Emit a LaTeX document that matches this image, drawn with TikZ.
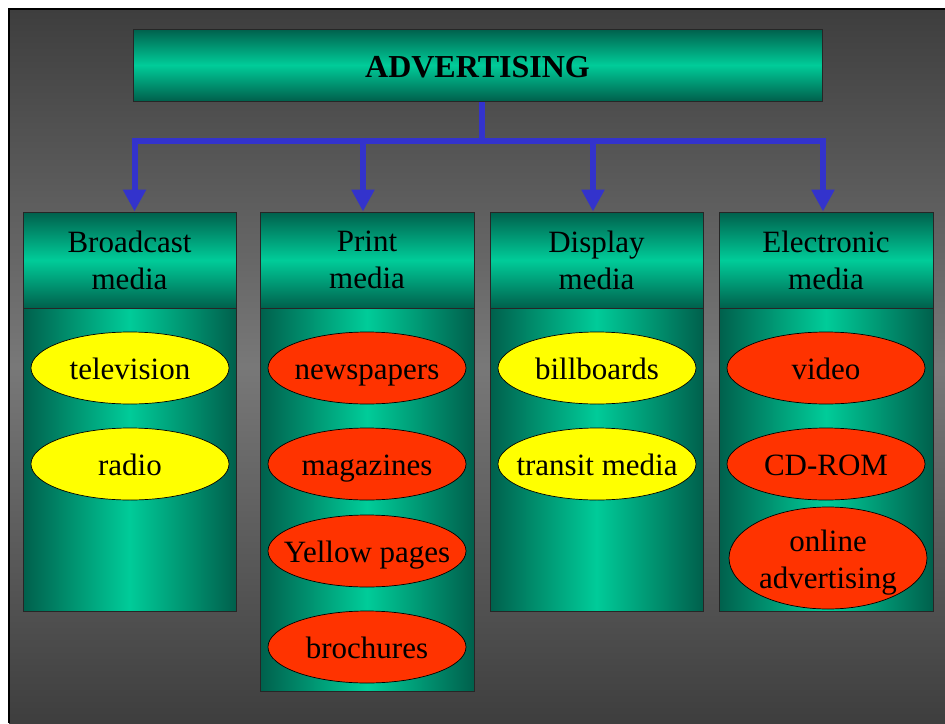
\documentclass[tikz,border=0pt]{standalone}
\usepackage{fontspec}
\setmainfont{Liberation Serif}
\usetikzlibrary{arrows.meta,shapes.geometric}

\definecolor{bgdark}{RGB}{62,62,62}
\definecolor{bglight}{RGB}{120,120,120}
\definecolor{tealdark}{RGB}{0,96,76}
\definecolor{tealbright}{RGB}{0,204,153}
\definecolor{linkblue}{RGB}{51,51,204}
\definecolor{tagyellow}{RGB}{255,255,0}
\definecolor{tagred}{RGB}{255,51,0}

\begin{document}
\begin{tikzpicture}[x=1pt,y=-1pt,
  every node/.style={font=\fontsize{31}{37}\selectfont},
  rootbox/.style={rectangle, draw=black!85, line width=1pt, inner sep=0pt,
    top color=tealdark, bottom color=tealdark, middle color=tealbright,
    minimum width=689pt, minimum height=72pt,
    text height=24pt, text depth=0pt,
    font=\fontsize{32}{38}\selectfont\bfseries},
  headbox/.style={rectangle, draw=black!85, line width=1pt, inner sep=0pt,
    top color=tealdark, bottom color=tealdark, middle color=tealbright,
    minimum height=96pt, align=center},
  bodybox/.style={rectangle, draw=black!85, line width=1pt, inner sep=0pt,
    left color=tealdark, right color=tealdark, middle color=tealbright},
  tagshape/.style={ellipse, draw=black, line width=0.7pt, inner sep=0pt,
    minimum width=198pt, minimum height=72pt},
  yellowtag/.style={tagshape, fill=tagyellow},
  redtag/.style={tagshape, fill=tagred},
  taglabel/.style={anchor=base, inner sep=0pt},
  conn/.style={draw=linkblue, line width=6pt},
  arrowconn/.style={conn, -{Triangle[width=22pt,length=22pt]}}
]
\useasboundingbox (0,0) rectangle (945,723);

% slide background with its frame on the left and top
\fill[white] (0,0) rectangle (945,723);
\shade[top color=bgdark, bottom color=bgdark, middle color=bglight]
  (9,9) rectangle (945,723);
\draw[black, line width=2pt] (9,723) -- (9,9) -- (945,9);

% title
\node[rootbox] (root) at (477.5,65) {ADVERTISING};

% column headers
\node[headbox, minimum width=213pt] (h1) at (129.5,260) {Broadcast\\media};
\node[headbox, minimum width=214pt] (h2) at (367,260) {Print\\media};
\node[headbox, minimum width=213pt] (h3) at (596.5,260) {Display\\media};
\node[headbox, minimum width=214pt] (h4) at (826,260) {Electronic\\media};

% column bodies
\node[bodybox, minimum width=213pt, minimum height=303pt] (b1) at (129.5,459.5) {};
\node[bodybox, minimum width=214pt, minimum height=383pt] (b2) at (367,499.5) {};
\node[bodybox, minimum width=213pt, minimum height=303pt] (b3) at (596.5,459.5) {};
\node[bodybox, minimum width=214pt, minimum height=303pt] (b4) at (826,459.5) {};

% broadcast media
\node[yellowtag] (tv) at (130,368) {};
\node[yellowtag] (radio) at (130,464) {};
% print media
\node[redtag] (news) at (367,368) {};
\node[redtag] (mags) at (367,464) {};
\node[redtag] (yp) at (367,551) {};
\node[redtag] (broch) at (367,647) {};
% display media
\node[yellowtag] (bill) at (597,368) {};
\node[yellowtag] (transit) at (597,464) {};
% electronic media
\node[redtag] (video) at (826,368) {};
\node[redtag] (cdrom) at (826,464) {};
\node[redtag, minimum height=102pt] (online) at (828,558) {};

\node[taglabel] (tvt) at ([yshift=-11pt]tv.center) {television};
\node[taglabel] (radiot) at ([yshift=-11pt]radio.center) {radio};
\node[taglabel] (newst) at ([yshift=-11pt]news.center) {newspapers};
\node[taglabel] (magst) at ([yshift=-11pt]mags.center) {magazines};
\node[taglabel] (ypt) at ([yshift=-11pt]yp.center) {Yellow pages};
\node[taglabel] (brocht) at ([yshift=-11pt]broch.center) {brochures};
\node[taglabel] (billt) at ([yshift=-11pt]bill.center) {billboards};
\node[taglabel] (transitt) at ([yshift=-11pt]transit.center) {transit media};
\node[taglabel] (videot) at ([yshift=-11pt]video.center) {video};
\node[taglabel] (cdromt) at ([yshift=-11pt]cdrom.center) {CD-ROM};
\node[anchor=north, align=center, inner sep=0pt] (onlinet)
  at ([yshift=28pt]online.center) {online\\advertising};

% connectors: trunk, bus and the four drops
\coordinate (trunk) at (481.5,140.5);
\coordinate (d1) at (134.5,140.5);
\coordinate (d2) at (363,140.5);
\coordinate (d3) at (593,140.5);
\coordinate (d4) at (823,140.5);
\draw[conn] (root.south -| trunk) -- (trunk);
\draw[conn] ([xshift=-3pt]d1) -- ([xshift=3pt]d4);
\draw[arrowconn] ([yshift=3pt]d1) -- (d1 |- h1.north);
\draw[arrowconn] ([yshift=3pt]d2) -- (d2 |- h2.north);
\draw[arrowconn] ([yshift=3pt]d3) -- (d3 |- h3.north);
\draw[arrowconn] ([yshift=3pt]d4) -- (d4 |- h4.north);
\end{tikzpicture}
\end{document}
